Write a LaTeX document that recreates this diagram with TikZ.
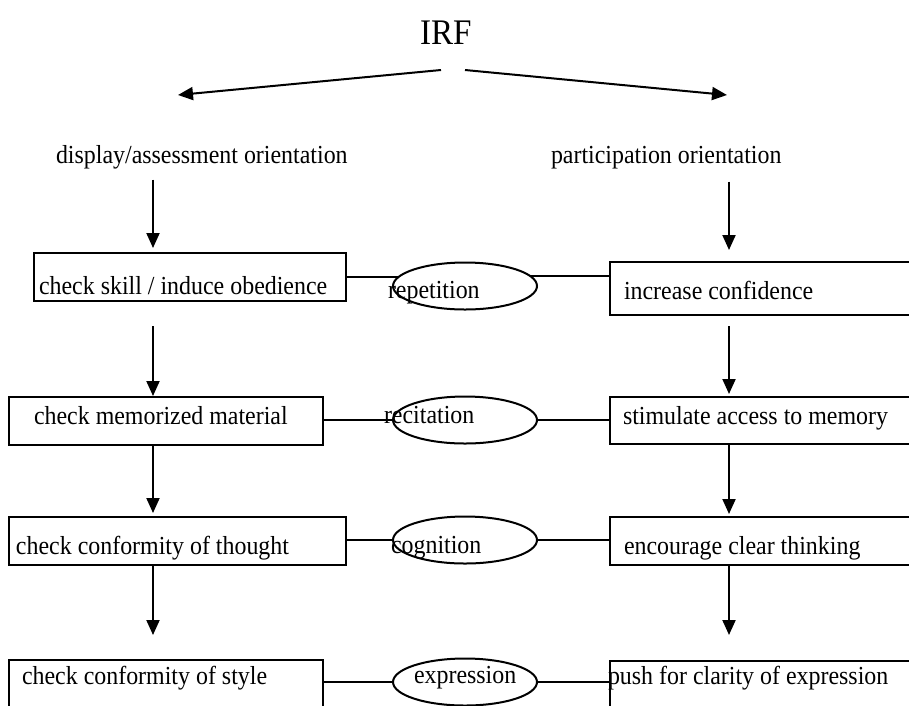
\documentclass[tikz,border=0pt]{standalone}
\usepackage{fontspec}
\setmainfont{Liberation Serif}[FakeStretch=0.92]
\usetikzlibrary{shapes.geometric,arrows.meta,calc}
\newcommand{\boxline}[2]{\makebox[#1][l]{#2}}
\begin{document}
\begin{tikzpicture}[x=1pt,y=-1pt,
  line width=2pt,
  every node/.style={font=\fontsize{26}{30}\selectfont},
  lbl/.style={inner sep=0pt, anchor=base west},
  stagebox/.style={draw, rectangle, anchor=north west, inner ysep=0pt},
  modeoval/.style={draw, ellipse, minimum width=144pt, minimum height=47pt, inner sep=0pt},
  flow/.style={-{Triangle[width=13pt,length=15pt]}}]
\clip (0,0) rectangle (909,705);

% heading and the two orientations
\node[lbl, font=\fontsize{36}{40}\selectfont] (T) at (419,44) {IRF};
\coordinate (sl) at (441,70);
\coordinate (sr) at (465,70);
\coordinate (tl) at (178,95);
\coordinate (tr) at (727,95);
\draw[flow] (sl) -- (tl);
\draw[flow] (sr) -- (tr);

\node[lbl] (D) at (55,163) {display/assessment orientation};
\node[lbl] (P) at (550,163) {participation orientation};

% left column
\node[stagebox, inner xsep=5pt,  text height=41pt, text depth=7pt]  (L1) at (33,252) {\boxline{302pt}{check skill / induce obedience}};
\node[stagebox, inner xsep=25pt, text height=27pt, text depth=21pt] (L2) at (8,396)  {\boxline{264pt}{check memorized material}};
\node[stagebox, inner xsep=7pt,  text height=37pt, text depth=11pt] (L3) at (8,516)  {\boxline{323pt}{check conformity of thought}};
\node[stagebox, inner xsep=13pt, text height=24pt, text depth=47pt] (L4) at (8,659)  {\boxline{288pt}{check conformity of style}};

% right column
\node[stagebox, inner xsep=14pt, text height=37pt, text depth=16pt] (R1) at (609,261) {\boxline{293pt}{increase confidence}};
\node[stagebox, inner xsep=13pt, text height=27pt, text depth=20pt] (R2) at (609,396) {\boxline{295pt}{stimulate access to memory}};
\node[stagebox, inner xsep=14pt, text height=37pt, text depth=11pt] (R3) at (609,516) {\boxline{293pt}{encourage clear thinking}};
\node[stagebox, inner xsep=0pt,  text height=23pt, text depth=47pt] (R4) at (609,660) {\boxline{321pt}{\hspace*{-2pt}push for clarity of expression}};

% middle ovals
\node[modeoval] (E1) at (465,286) {};
\node[modeoval] (E2) at (465,420) {};
\node[modeoval] (E3) at (465,540) {};
\node[modeoval] (E4) at (465,682) {};
\node[lbl] (E1t) at ($(E1.center)+(-78,12)$) {repetition};
\node[lbl] (E2t) at ($(E2.center)+(-82,3)$)  {recitation};
\node[lbl] (E3t) at ($(E3.center)+(-75,13)$) {cognition};
\node[lbl] (E4t) at ($(E4.center)+(-52,1)$)  {expression};

% horizontal links
\draw (L1.east) -- (L1.east -| E1.171);
\draw (E1.9) -- (E1.9 -| R1.west);
\draw (E2.west -| L2.east) -- (E2.west);
\draw (E2.east) -- (E2.east -| R2.west);
\draw (E3.west -| L3.east) -- (E3.west);
\draw (E3.east) -- (E3.east -| R3.west);
\draw (E4.west -| L4.east) -- (E4.west);
\draw (E4.east) -- (E4.east -| R4.west);

% vertical flow
\coordinate (cl) at (153,0);
\coordinate (cr) at (729,0);
\draw[flow, shorten <=10pt, shorten >=4pt] (D.south -| cl) -- (L1.north -| cl);
\draw[flow, shorten <=12pt, shorten >=11pt] (P.south -| cr) -- (R1.north -| cr);
\draw[flow, shorten <=24pt] (L1.south -| cl) -- (L2.north -| cl);
\draw[flow, shorten <=10pt, shorten >=2pt] (R1.south -| cr) -- (R2.north -| cr);
\draw[flow, shorten >=3pt] (L2.south -| cl) -- (L3.north -| cl);
\draw[flow, shorten >=2pt] (R2.south -| cr) -- (R3.north -| cr);
\draw[flow, shorten >=24pt] (L3.south -| cl) -- (L4.north -| cl);
\draw[flow, shorten >=25pt] (R3.south -| cr) -- (R4.north -| cr);
\end{tikzpicture}
\end{document}
